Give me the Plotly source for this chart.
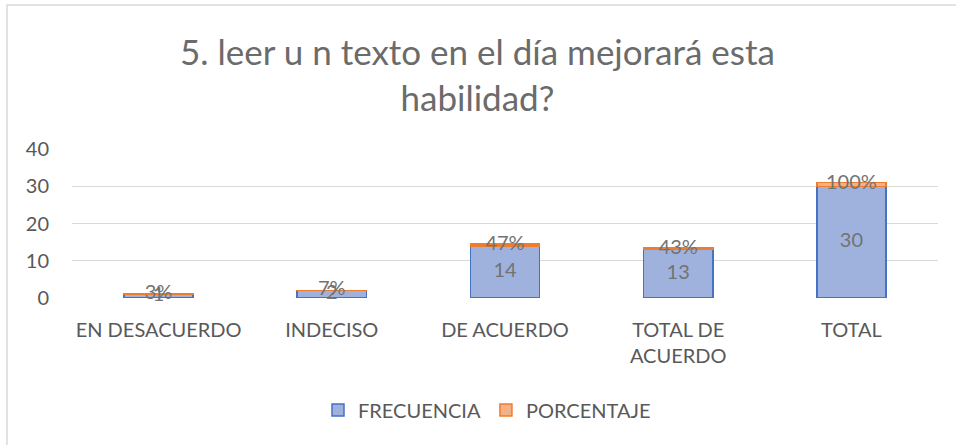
import plotly.graph_objects as go

categories = ["EN DESACUERDO", "INDECISO", "DE ACUERDO", "TOTAL DE<br>ACUERDO", "TOTAL"]
frecuencia = [1, 2, 14, 13, 30]
porcentaje = [0.03, 0.07, 0.47, 0.43, 1.00]
y_ticks = [0, 10, 20, 30, 40]
title_text = "5. leer u n texto en el día mejorará esta<br>habilidad?"

FONT = "Lato"
GREY = "#595959"
TITLE_GREY = "#6b6b6b"
LABEL_GREY = "#737373"

# plot area in pixels
PL, PR, PT, PB = 72, 938, 149, 298
PW, PH = PR - PL, PB - PT


def px_x(x):
    return (x - PL) / PW


def px_y(y):
    return (PB - y) / PH


fig = go.Figure()
fig.add_trace(go.Bar(
    x=categories, y=frecuencia, name="FRECUENCIA",
    marker=dict(color="#9fb2de", line=dict(color="#4472c4", width=1.5)),
))
fig.add_trace(go.Bar(
    x=categories, y=porcentaje, name="PORCENTAJE",
    marker=dict(color="#f4b183", line=dict(color="#ed7d31", width=1.5)),
))
# data labels
fig.add_trace(go.Scatter(
    x=categories, y=[f / 2 for f in frecuencia], mode="text",
    text=[str(f) for f in frecuencia], showlegend=False, hoverinfo="skip",
    textfont=dict(family=FONT, size=20, color=LABEL_GREY), cliponaxis=False,
))
fig.add_trace(go.Scatter(
    x=categories, y=[f + p / 2 for f, p in zip(frecuencia, porcentaje)], mode="text",
    text=[f"{round(p * 100)}%" for p in porcentaje], showlegend=False, hoverinfo="skip",
    textfont=dict(family=FONT, size=20, color=LABEL_GREY), cliponaxis=False,
))

fig.update_layout(
    barmode="stack",
    bargap=0.6,
    width=956, height=445,
    margin=dict(l=PL, r=956 - PR, t=PT, b=445 - PB, autoexpand=False),
    paper_bgcolor="white", plot_bgcolor="white",
    font=dict(family=FONT, color=GREY),
    xaxis=dict(showgrid=False, showline=False, ticks="",
               tickfont=dict(family=FONT, size=20, color=GREY),
               ticklabelstandoff=18),
    yaxis=dict(range=[0, 40], tickvals=y_ticks, showgrid=True, gridcolor="#d9d9d9",
               gridwidth=1, zeroline=False, showline=False,
               tickfont=dict(family=FONT, size=20, color=GREY),
               ticklabelstandoff=22),
    legend=dict(orientation="h", x=px_x(487), xanchor="center", y=px_y(410), yanchor="middle",
                font=dict(family=FONT, size=20, color=GREY), traceorder="normal",
                itemwidth=30),
    annotations=[dict(text=title_text, xref="paper", yref="paper",
                      x=px_x(477), y=px_y(74), xanchor="center", yanchor="middle",
                      showarrow=False, align="center",
                      font=dict(family=FONT, size=35, color=TITLE_GREY))],
    shapes=[dict(type="rect", xref="paper", yref="paper",
                 x0=px_x(7), x1=px_x(962),
                 y0=px_y(452), y1=px_y(5),
                 line=dict(color="#d9d9d9", width=1.5), fillcolor="rgba(0,0,0,0)",
                 layer="below")],
)

fig.write_html("out.html", config={"displayModeBar": False},
               post_script="document.body.style.margin='0';document.body.style.overflow='hidden';")
